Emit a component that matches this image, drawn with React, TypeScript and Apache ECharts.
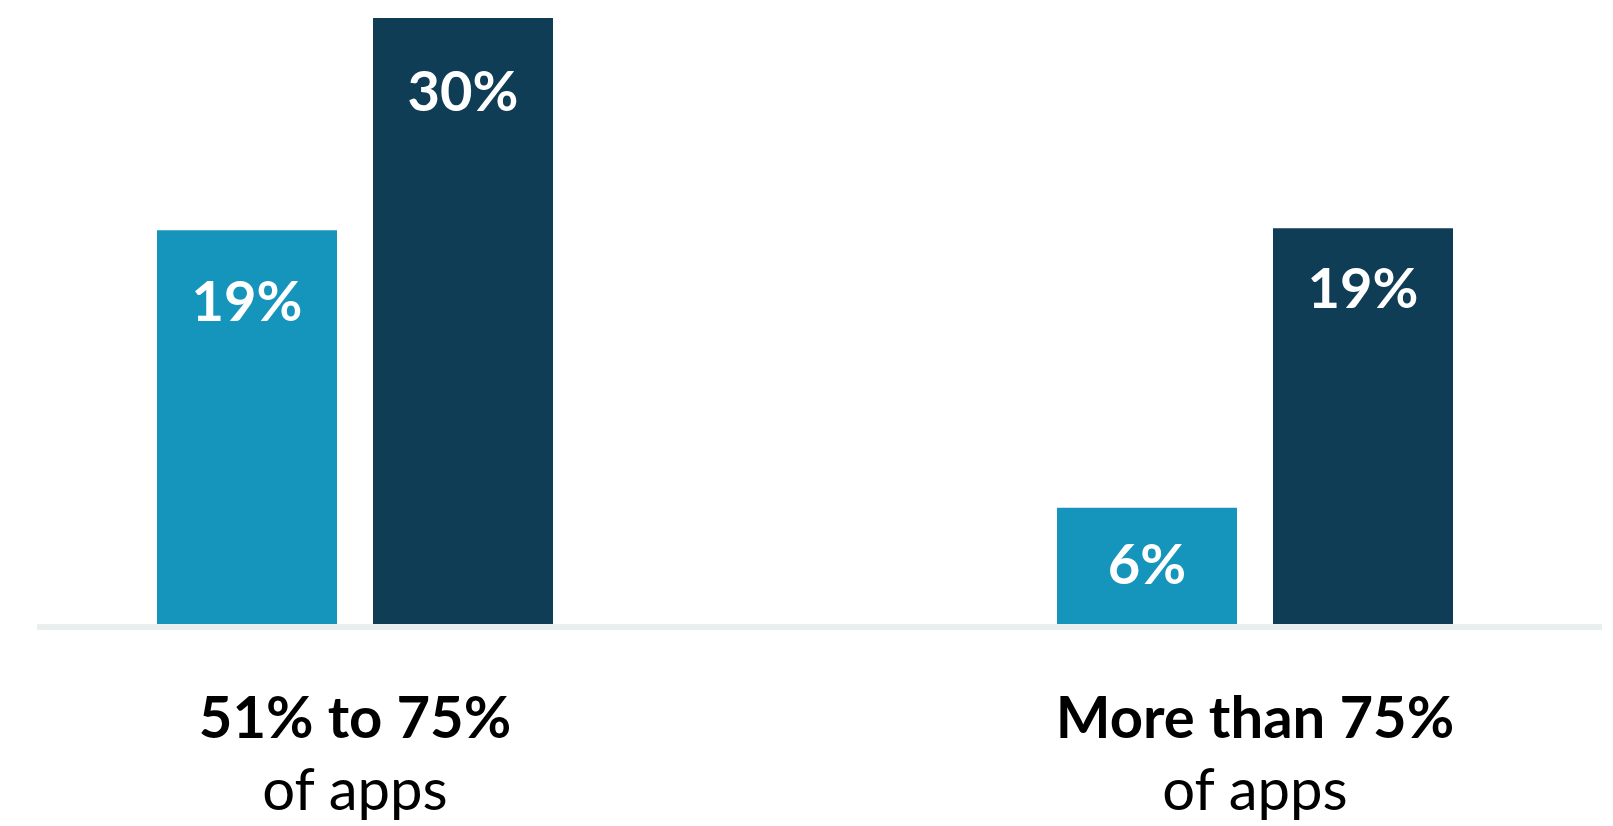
import React, { useEffect, useRef } from "react";
import * as echarts from "echarts";

const categories = ["51% to 75%", "More than 75%"];
const categorySub = ["of apps", "of apps"];
const seriesA = [19.3, 5.7];
const seriesB = [29.7, 19.4];
const labelDistA = [41, 27];
const labelDistB = [43, 30];

const SHIFT = 95;

export default function App() {
  const ref = useRef<HTMLDivElement>(null);
  useEffect(() => {
    if (!ref.current) return;
    const chart = echarts.init(ref.current, null, { renderer: "svg" });
    const labelBase = {
      show: true,
      position: "insideTop",
      color: "#ffffff",
      fontFamily: "Lato",
      fontWeight: "bold",
      fontSize: 56,
      formatter: (p: any) => Math.round(p.value) + "%",
    };
    chart.setOption({
      animation: false,
      grid: { left: 0, right: 0, top: 12, bottom: 202, containLabel: false },
      xAxis: {
        type: "category",
        data: categories,
        axisLine: { show: false },
        axisTick: { show: false },
        axisLabel: {
          interval: 0,
          margin: 55,
          formatter: (v: string, i: number) => `{b|${v}}\n{r|${categorySub[i]}}`,
          rich: {
            b: { fontFamily: "Lato", fontWeight: "bold", fontSize: 58, color: "#000", lineHeight: 72 },
            r: { fontFamily: "Lato", fontWeight: "normal", fontSize: 58, color: "#000", lineHeight: 72 },
          },
        },
      },
      yAxis: { type: "value", min: 0, max: 30, show: false, splitLine: { show: false } },
      graphic: [
        {
          type: "rect",
          shape: { x: 37 + SHIFT, y: 624, width: 1565, height: 6 },
          style: { fill: "#e9efef" },
          z: 0,
        },
      ],
      series: [
        {
          type: "bar",
          barWidth: 180,
          barGap: "20%",
          itemStyle: { color: "#1595bb" },
          data: seriesA.map((v, i) => ({ value: v, label: { ...labelBase, distance: labelDistA[i] } })),
          label: labelBase,
        },
        {
          type: "bar",
          barWidth: 180,
          barGap: "20%",
          itemStyle: { color: "#0f3d55" },
          data: seriesB.map((v, i) => ({ value: v, label: { ...labelBase, distance: labelDistB[i] } })),
          label: labelBase,
        },
      ],
    });
    return () => chart.dispose();
  }, []);
  return (
    <div style={{ position: "fixed", left: 0, top: 0, width: 1613, height: 826, overflow: "hidden", background: "#ffffff" }}>
      <div
        ref={ref}
        style={{ position: "absolute", left: -SHIFT, top: 0, width: 1800, height: 826 }}
      />
    </div>
  );
}
